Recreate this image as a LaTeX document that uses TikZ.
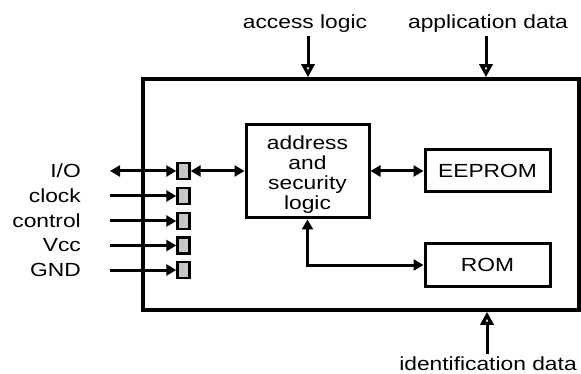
\documentclass[tikz,border=0pt]{standalone}
\usepackage{fontspec}
\setmainfont{Liberation Sans}[FakeStretch=1.2]
\usetikzlibrary{arrows.meta,calc}
\begin{document}
\begin{tikzpicture}[x=1pt,y=-1pt,
  lbl/.style={inner sep=0pt,font=\fontsize{19}{20}\selectfont},
  blk/.style={draw,line width=3pt,inner sep=0pt,font=\fontsize{19}{20}\selectfont},
  port/.style={draw,line width=2.4pt,fill=black!22,minimum width=12pt,minimum height=16pt,inner sep=0pt},
  conn/.style={line width=3pt},
  tip/.style={-{Triangle[length=10pt,width=11pt]}},
  dtip/.style={{Triangle[length=10pt,width=11pt]}-{Triangle[length=10pt,width=11pt]}},
  openarr/.style={line width=3pt,-{Triangle[open,length=13pt,width=13pt,line width=3.6pt]}}
]
\useasboundingbox (0,0) rectangle (581,374);
% outer chip
\node[draw,line width=3.6pt,minimum width=436pt,minimum height=231pt,inner sep=0pt] (chip) at (361,194.5) {};
% inner blocks
\node[blk,minimum width=123pt,minimum height=93pt] (addr) at (307.5,171.5) {};
\node[lbl,align=center] (addrtxt) at (307.5,175) {address\\and\\security\\logic};
\node[blk,minimum width=125pt,minimum height=42pt] (eep) at (487.5,171) {EEPROM};
\node[blk,minimum width=125pt,minimum height=42pt] (rom) at (487.5,265) {ROM};
% ports
\foreach \i/\y/\t in {1/171/I\slash O,2/196/clock,3/221/control,4/245.5/Vcc,5/270/GND}{
  \node[port] (p\i) at (183.5,\y) {};
  \node[lbl,anchor=east] (l\i) at (81,\y) {\t};
  \coordinate (c\i) at (110,\y);
}
\draw[conn,dtip] (c1) -- (p1.west);
\foreach \i in {2,...,5}{\draw[conn,tip] (c\i) -- (p\i.west);}
\draw[conn,dtip] (p1.east) -- (p1.east -| addr.west);
\draw[conn,dtip] (addr.east |- eep.west) -- (eep.west);
\draw[conn,dtip] (addr.south) |- (rom.west);
% top / bottom labels and arrows
\node[lbl,anchor=base] (acc) at (305,29) {access logic};
\node[lbl,anchor=base] (app) at (488,29) {application data};
\node[lbl,anchor=base] (idn) at (488,370) {identification data};
\coordinate (a1) at (308,36);
\coordinate (a2) at (486,36);
\coordinate (a3) at (487,354);
\draw[openarr] (a1) -- (a1 |- chip.north);
\draw[openarr] (a2) -- (a2 |- chip.north);
\draw[openarr] (a3) -- (a3 |- chip.south);
\end{tikzpicture}
\end{document}
